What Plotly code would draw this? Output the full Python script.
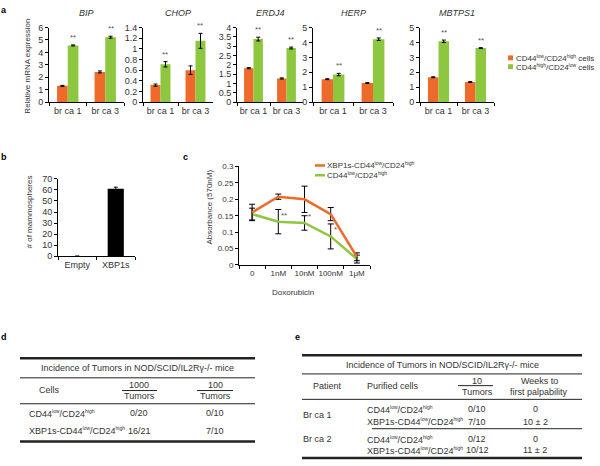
import plotly.graph_objects as go

W, H = 600, 466
def fx(x): return x / W
def fy(y): return 1 - y / H

ORANGE = "#EE6A2A"
GREEN = "#8DC63F"
TXT = "#333333"
FONT = "Liberation Sans, Arial, sans-serif"

# ---------------- data: panel a ----------------
samples = ["br ca 1", "br ca 3"]
genes = ["BIP", "CHOP", "ERDJ4", "HERP", "MBTPS1"]
bip_low = [1.31, 2.43]
bip_low_err = [0.04, 0.08]
bip_high = [4.56, 5.22]
bip_high_err = [0.04, 0.08]
chop_low = [0.32, 0.60]
chop_low_err = [0.02, 0.08]
chop_high = [0.71, 1.15]
chop_high_err = [0.05, 0.14]
erdj4_low = [1.82, 1.27]
erdj4_low_err = [0.03, 0.03]
erdj4_high = [3.38, 2.90]
erdj4_high_err = [0.10, 0.05]
herp_low = [1.54, 1.28]
herp_low_err = [0.03, 0.03]
herp_high = [1.85, 4.22]
herp_high_err = [0.08, 0.08]
mbtps1_low = [1.67, 1.35]
mbtps1_low_err = [0.03, 0.03]
mbtps1_high = [4.08, 3.62]
mbtps1_high_err = [0.08, 0.03]
gene_ymax = [6, 1.4, 4, 5, 5]
gene_dtick = [1, 0.2, 0.5, 1, 1]
a_legend = ["CD44<sup>low</sup>/CD24<sup>high</sup> cells",
            "CD44<sup>high</sup>/CD24<sup>low</sup> cells"]

# ---------------- data: panel b ----------------
mammo_cats = ["Empty", "XBP1s"]
mammo_vals = [0, 61]
mammo_err = [None, 1.5]

# ---------------- data: panel c ----------------
doses = ["0", "1nM", "10nM", "100nM", "1\u03bcM"]
xbp_vals = [0.160, 0.208, 0.200, 0.155, 0.025]
xbp_err = [0.025, 0.008, 0.040, 0.020, 0.012]
ctl_vals = [0.155, 0.132, 0.128, 0.087, 0.018]
ctl_err = [0.018, 0.037, 0.022, 0.038, 0.012]
c_stars = ["", "**", "*", "*", ""]
c_legend = ["XBP1s-CD44<sup>low</sup>/CD24<sup>high</sup>", "CD44<sup>low</sup>/CD24<sup>high</sup>"]

# ---------------- data: tables ----------------
tbl_title = "Incidence of Tumors in NOD/SCID/IL2R\u03b3-/- mice"
d_cells = ["CD44<sup>low</sup>/CD24<sup>high</sup>", "XBP1s-CD44<sup>low</sup>/CD24<sup>high</sup>"]
d_1000 = ["0/20", "16/21"]
d_100 = ["0/10", "7/10"]
e_patients = ["Br ca 1", "Br ca 2"]
e_cells = ["CD44<sup>low</sup>/CD24<sup>high</sup>", "XBP1s-CD44<sup>low</sup>/CD24<sup>high</sup>",
           "CD44<sup>low</sup>/CD24<sup>high</sup>", "XBP1s-CD44<sup>low</sup>/CD24<sup>high</sup>"]
e_tumors = ["0/10", "7/10", "0/12", "10/12"]
e_weeks = ["0", "10 \u00b1 2", "0", "11 \u00b1 2"]


def small_sup(t, px=5):
    return t.replace("<sup>", '<sup><span style="font-size:%dpx">' % px).replace("</sup>", "</span></sup>")


fig = go.Figure()
annotations = []
shapes = []

def ann(x, y, text, size=9, xanchor="center", yanchor="middle", color=TXT, **kw):
    annotations.append(dict(x=fx(x), y=fy(y), xref="paper", yref="paper", text=text,
                            showarrow=False, xanchor=xanchor, yanchor=yanchor, borderpad=0,
                            font=dict(size=size, color=color, family=FONT), **kw))

def hline(x0, x1, y, w=1, color="#222222"):
    shapes.append(dict(type="line", xref="paper", yref="paper", x0=fx(x0), x1=fx(x1),
                       y0=fy(y), y1=fy(y), line=dict(color=color, width=w)))

axis_common = dict(showline=True, linecolor="black", linewidth=1, ticks="outside",
                   ticklen=3, tickcolor="black", showgrid=False, zeroline=False,
                   tickfont=dict(size=9, color=TXT, family=FONT))

# ---------------- panel a ----------------
lows = [bip_low, chop_low, erdj4_low, herp_low, mbtps1_low]
low_errs = [bip_low_err, chop_low_err, erdj4_low_err, herp_low_err, mbtps1_low_err]
highs = [bip_high, chop_high, erdj4_high, herp_high, mbtps1_high]
high_errs = [bip_high_err, chop_high_err, erdj4_high_err, herp_high_err, mbtps1_high_err]
a_x = [(49, 124), (143, 213), (237, 303), (313, 393), (420, 494)]
a_y = (23, 99.3)
BARGAP = 0.43
layout_axes = {}
for k in range(5):
    n = "" if k == 0 else str(k + 1)
    xa, ya = "x" + n, "y" + n
    fig.add_trace(go.Bar(x=samples, y=lows[k], marker=dict(color=ORANGE, line=dict(width=0)),
                         error_y=dict(type="data", array=low_errs[k], color="black", thickness=1, width=2),
                         xaxis=xa, yaxis=ya, showlegend=False))
    fig.add_trace(go.Bar(x=samples, y=highs[k], marker=dict(color=GREEN, line=dict(width=0)),
                         error_y=dict(type="data", array=high_errs[k], color="black", thickness=1, width=2),
                         xaxis=xa, yaxis=ya, showlegend=False))
    layout_axes["xaxis" + n] = dict(axis_common, domain=[fx(a_x[k][0]), fx(a_x[k][1])], anchor=ya,
                                    type="category", tickson="boundaries", range=[-0.5, 1.5],
                                    tickangle=0)
    layout_axes["yaxis" + n] = dict(axis_common, domain=[fy(a_y[1]), fy(a_y[0])], anchor=xa,
                                    range=[0, gene_ymax[k]], dtick=gene_dtick[k])
    ann((a_x[k][0] + a_x[k][1]) / 2, 8, "<i>" + genes[k] + "</i>", size=9)
    off = (1 - BARGAP) / 4
    for j in range(2):
        annotations.append(dict(x=j + off, y=highs[k][j] + high_errs[k][j], xref=xa, yref=ya,
                                text="**", showarrow=False, yanchor="bottom", yshift=1,
                                font=dict(size=8, color="#555555", family=FONT)))

ann(28, 63, "Relative mRNA expression", size=8, textangle=-90)
for i, t in enumerate(a_legend):
    col = [ORANGE, GREEN][i]
    yy = [54, 63][i]
    shapes.append(dict(type="rect", xref="paper", yref="paper", x0=fx(508), x1=fx(513),
                       y0=fy(yy + 2.5), y1=fy(yy - 2.5), line=dict(width=0), fillcolor=col))
    ann(515, yy, small_sup(t), size=8, xanchor="left")

# ---------------- panel b ----------------
fig.add_trace(go.Bar(x=mammo_cats, y=mammo_vals, width=0.42, marker=dict(color="black", line=dict(width=0)),
                     error_y=dict(type="data", array=mammo_err, color="black", thickness=1, width=2),
                     xaxis="x6", yaxis="y6", showlegend=False))
layout_axes["xaxis6"] = dict(axis_common, domain=[fx(58), fx(135)], anchor="y6", type="category",
                             tickson="boundaries", range=[-0.5, 1.5], tickangle=0)
layout_axes["yaxis6"] = dict(axis_common, domain=[fy(256.7), fy(177.7)], anchor="x6", range=[0, 70], dtick=10)
ann(29, 212, "# of mammospheres", size=8, textangle=-90)

# ---------------- panel c ----------------
fig.add_trace(go.Scatter(x=doses, y=ctl_vals, mode="lines", line=dict(color=GREEN, width=2.5),
                         error_y=dict(type="data", array=ctl_err, color="black", thickness=1, width=3),
                         xaxis="x7", yaxis="y7", showlegend=False))
fig.add_trace(go.Scatter(x=doses, y=xbp_vals, mode="lines", line=dict(color=ORANGE, width=2.5),
                         error_y=dict(type="data", array=xbp_err, color="black", thickness=1, width=3),
                         xaxis="x7", yaxis="y7", showlegend=False))
layout_axes["xaxis7"] = dict(axis_common, domain=[fx(239), fx(370)], anchor="y7", type="category",
                             tickson="boundaries", range=[-0.5, 4.5], tickangle=0,
                             tickfont=dict(size=8, color=TXT, family=FONT))
layout_axes["yaxis7"] = dict(axis_common, domain=[fy(265.7), fy(165)], anchor="x7", range=[0, 0.3], dtick=0.05,
                             tickfont=dict(size=8, color=TXT, family=FONT))
for i, s in enumerate(c_stars):
    if s:
        annotations.append(dict(x=i, y=ctl_vals[i], xref="x7", yref="y7", text=s, showarrow=False,
                                xanchor="left", yanchor="bottom", xshift=1,
                                font=dict(size=8, color="#555555", family=FONT)))
ann(210, 207, "Absorbance (570nM)", size=8, textangle=-90)
ann(293, 294, "Doxorubicin", size=8)
for i, t in enumerate(c_legend):
    col = [ORANGE, GREEN][i]
    yy = [164, 174][i]
    shapes.append(dict(type="line", xref="paper", yref="paper", x0=fx(315), x1=fx(325),
                       y0=fy(yy), y1=fy(yy), line=dict(color=col, width=2.5)))
    ann(326, yy, small_sup(t), size=8, xanchor="left")

# ---------------- panel labels ----------------
for lab, x, y in [("a", 4, 5), ("b", 4, 155), ("c", 185, 155), ("d", 4, 339), ("e", 297, 339)]:
    ann(x, y, "<b>" + lab + "</b>", size=9, color="black")

# ---------------- table d ----------------
hline(20, 255, 361, w=2.5)
ann(137, 371, tbl_title)
hline(20, 255, 381)
ann(38, 393, "Cells", xanchor="left")
ann(139, 388, "1000")
hline(122, 157, 394)
ann(139, 400, "Tumors")
ann(215, 388, "100")
hline(197, 233, 394)
ann(215, 400, "Tumors")
hline(20, 255, 407.5)
d_rows_y = [417, 435]
for i in range(2):
    ann(28, d_rows_y[i], small_sup(d_cells[i]), xanchor="left")
    ann(139, d_rows_y[i], d_1000[i])
    ann(215, d_rows_y[i], d_100[i])
hline(20, 255, 446, w=2.5)

# ---------------- table e ----------------
hline(302, 582, 358, w=2.5)
ann(442, 368, tbl_title)
hline(302, 582, 377)
ann(327, 389, "Patient")
ann(366, 389, "Purified cells", xanchor="left")
ann(477, 384, "10")
hline(458, 493, 389)
ann(477, 395, "Tumors")
ann(539, 384, "Weeks to")
ann(539, 395, "first palpability")
hline(302, 582, 403)
e_rows_y = [413, 426, 444, 455]
for i in range(4):
    ann(366, e_rows_y[i], small_sup(e_cells[i]), xanchor="left")
    ann(477, e_rows_y[i], e_tumors[i])
    ann(535, e_rows_y[i], e_weeks[i])
ann(302, 419.5, e_patients[0], xanchor="left")
ann(302, 444, e_patients[1], xanchor="left")
hline(372, 582, 433)
hline(302, 582, 463, w=2.5)

fig.update_layout(width=W, height=H, autosize=False, margin=dict(l=0, r=0, t=0, b=0),
                  paper_bgcolor="white", plot_bgcolor="white", barmode="group", bargap=BARGAP,
                  showlegend=False, annotations=annotations, shapes=shapes,
                  font=dict(family=FONT, color=TXT), **layout_axes)
fig.write_html("out.html", config={"displayModeBar": False, "staticPlot": True},
               post_script="document.body.style.margin='0px';document.body.style.overflow='hidden';")
